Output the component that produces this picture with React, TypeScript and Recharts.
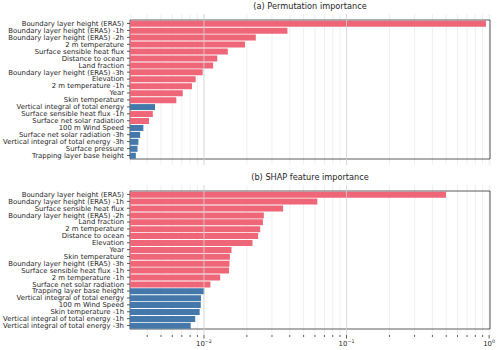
import React from "react";
import { BarChart, Bar, Cell, XAxis, YAxis, CartesianGrid, ReferenceLine, ReferenceArea } from "recharts";

// (a) permutation importance, top to bottom
const permNames = [
  "Boundary layer height (ERA5)",
  "Boundary layer height (ERA5) -1h",
  "Boundary layer height (ERA5) -2h",
  "2 m temperature",
  "Surface sensible heat flux",
  "Distance to ocean",
  "Land fraction",
  "Boundary layer height (ERA5) -3h",
  "Elevation",
  "2 m temperature -1h",
  "Year",
  "Skin temperature",
  "Vertical integral of total energy",
  "Surface sensible heat flux -1h",
  "Surface net solar radiation",
  "100 m Wind Speed",
  "Surface net solar radiation -3h",
  "Vertical integral of total energy -3h",
  "Surface pressure",
  "Trapping layer base height",
];
const permValues = [
  0.95, 0.0385, 0.0231, 0.0194, 0.0147, 0.0124, 0.0116, 0.0098, 0.00875, 0.00824,
  0.0071, 0.0064, 0.00454, 0.00438, 0.00412, 0.00376, 0.00357, 0.00347, 0.00342, 0.00333,
];
// 1 = red, 0 = blue
const permRed = [1, 1, 1, 1, 1, 1, 1, 1, 1, 1, 1, 1, 0, 1, 1, 0, 0, 0, 0, 0];

// (b) SHAP feature importance
const shapNames = [
  "Boundary layer height (ERA5)",
  "Boundary layer height (ERA5) -1h",
  "Surface sensible heat flux",
  "Boundary layer height (ERA5) -2h",
  "Land fraction",
  "2 m temperature",
  "Distance to ocean",
  "Elevation",
  "Year",
  "Skin temperature",
  "Boundary layer height (ERA5) -3h",
  "Surface sensible heat flux -1h",
  "2 m temperature -1h",
  "Surface net solar radiation",
  "Trapping layer base height",
  "Vertical integral of total energy",
  "100 m Wind Speed",
  "Skin temperature -1h",
  "Vertical integral of total energy -1h",
  "Vertical integral of total energy -3h",
];
const shapValues = [
  0.498, 0.0624, 0.0359, 0.0263, 0.0259, 0.0248, 0.024, 0.0219, 0.0156, 0.0152,
  0.0151, 0.015, 0.013, 0.0111, 0.01005, 0.00953, 0.0095, 0.00933, 0.00869, 0.00807,
];
const shapRed = [1, 1, 1, 1, 1, 1, 1, 1, 1, 1, 1, 1, 1, 1, 0, 0, 0, 0, 0, 0];

const xDomain = [0.00303, 1.014];
const logTicks = [
  0.004, 0.005, 0.006, 0.007, 0.008, 0.009,
  0.01, 0.02, 0.03, 0.04, 0.05, 0.06, 0.07, 0.08, 0.09,
  0.1, 0.2, 0.3, 0.4, 0.5, 0.6, 0.7, 0.8, 0.9, 1,
];
const majorTicks = [0.01, 0.1, 1];
const majorExp = ["\u22122", "\u22121", "0"];

const RED = "#EE6677";
const BLUE = "#4477AA";
const TEXT = "#262626";
const FONT = "DejaVu Sans";

const toRows = (names: string[], values: number[], red: number[]) =>
  names.map((name, i) => ({ name, value: values[i], red: red[i] }));

function LogTick(props: any) {
  const { x, y, payload, showLabel } = props;
  const idx = majorTicks.indexOf(payload.value);
  const major = idx >= 0;
  return (
    <g>
      <line x1={x} x2={x} y1={y} y2={y + (major ? 3.5 : 2)} stroke="#333" strokeWidth={0.8} />
      {showLabel && major && (
        <text x={x} y={y + 11} textAnchor="middle" fontSize={6.9} fill={TEXT} fontFamily={FONT}>
          10
          <tspan dy={-3} fontSize={4.8}>
            {majorExp[idx]}
          </tspan>
        </text>
      )}
    </g>
  );
}

function NameTick(props: any) {
  const { x, y, payload } = props;
  return (
    <text x={x} y={y} dy="0.35em" textAnchor="end" fontSize={6.9} fill={TEXT} fontFamily={FONT}>
      {payload.value}
    </text>
  );
}

function Panel({ title, rows, height, top, showLabels }: any) {
  return (
    <div style={{ position: "absolute", left: 0, top, width: 500, height }}>
      <div
        style={{
          position: "absolute",
          left: 130,
          width: 360,
          top: 1,
          textAlign: "center",
          fontFamily: FONT,
          fontSize: 8.2,
          color: TEXT,
          lineHeight: "10px",
        }}
      >
        {title}
      </div>
      <BarChart
        width={500}
        height={height}
        data={rows}
        layout="vertical"
        margin={{ top: 14, right: 10, bottom: 0, left: 0 }}
        barCategoryGap="10%"
      >
        <CartesianGrid horizontal={false} stroke="#ebebeb" strokeWidth={0.8} />
        <ReferenceLine x={0.01} stroke="#d6d6d6" strokeWidth={0.8} />
        <ReferenceLine x={0.1} stroke="#d6d6d6" strokeWidth={0.8} />
        <XAxis
          type="number"
          scale="log"
          domain={xDomain}
          allowDataOverflow
          ticks={logTicks}
          interval={0}
          height={showLabels ? 14 : 0}
          tickSize={0}
          tickMargin={0}
          tickLine={false}
          axisLine={false}
          tick={<LogTick showLabel={showLabels} />}
        />
        <YAxis
          type="category"
          dataKey="name"
          width={130}
          interval={0}
          padding={{ top: 6, bottom: 6 }}
          tickSize={3}
          tickMargin={3}
          tickLine={{ stroke: "#333", strokeWidth: 0.8 }}
          axisLine={false}
          tick={<NameTick />}
        />
        <Bar dataKey="value" isAnimationActive={false}>
          {rows.map((r: any, i: number) => (
            <Cell key={i} fill={r.red ? RED : BLUE} />
          ))}
        </Bar>
        <ReferenceArea x1={xDomain[0]} x2={xDomain[1]} fill="none" stroke="#333" strokeWidth={0.8} />
      </BarChart>
    </div>
  );
}

export default function App() {
  return (
    <div style={{ position: "absolute", left: 0, top: 0, width: 500, height: 350, background: "#fff" }}>
      <Panel
        title="(a) Permutation importance"
        rows={toRows(permNames, permValues, permRed)}
        height={165}
        top={0}
        showLabels={false}
      />
      <Panel
        title="(b) SHAP feature importance"
        rows={toRows(shapNames, shapValues, shapRed)}
        height={178}
        top={171}
        showLabels={true}
      />
    </div>
  );
}
